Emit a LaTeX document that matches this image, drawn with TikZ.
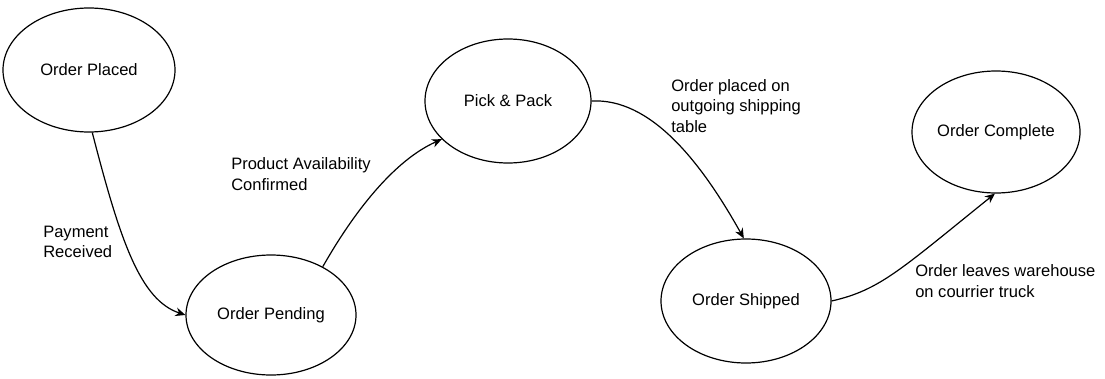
\documentclass[tikz,border=0pt]{standalone}
\usepackage{fontspec}
\setmainfont{Liberation Sans}
\usetikzlibrary{shapes.geometric,arrows.meta}
\begin{document}
\begin{tikzpicture}[x=0.75pt,y=-0.75pt,
  state/.style={draw=black,line width=0.9pt,ellipse,inner sep=0pt,
    minimum width=127.5pt,minimum height=92pt,
    font=\fontsize{12.4}{15.5}\selectfont},
  lbl/.style={align=left,anchor=west,inner sep=0pt,
    font=\fontsize{12.4}{15.5}\selectfont},
  edge/.style={draw=black,line width=0.9pt,-{Stealth[length=7.5pt,width=6.5pt]}}]
\useasboundingbox (0,0) rectangle (1105,378);
\node[state,minimum width=129pt,minimum height=93pt] (placed) at (89,70) {Order Placed};
\node[state,minimum height=90pt] (pending) at (271,315) {Order Pending};
\node[state,minimum width=124.5pt,minimum height=93pt] (pick) at (508,101) {Pick \& Pack};
\node[state,minimum height=93pt] (shipped) at (746,301) {Order Shipped};
\node[state,minimum width=126pt,minimum height=91.5pt] (complete) at (996,132) {Order Complete};

\draw[edge] (placed.-87) .. controls (120,240) and (140,300) .. (pending.west);
\draw[edge] (pending.43) .. controls (355,210) and (395,160) .. (pick.210);
\draw[edge] (pick.east) .. controls (650,98) and (700,160) .. (shipped.92);
\draw[edge] (shipped.east) .. controls (880,290) and (900,270) .. (complete.-91);

\node[lbl] (l1) at (43,242) {Payment\\Received};
\node[lbl] (l2) at (231,174) {Product Availability\\Confirmed};
\node[lbl] (l3) at (671,106) {Order placed on\\outgoing shipping\\table};
\node[lbl] (l4) at (915,281) {Order leaves warehouse\\on courrier truck};
\end{tikzpicture}
\end{document}
